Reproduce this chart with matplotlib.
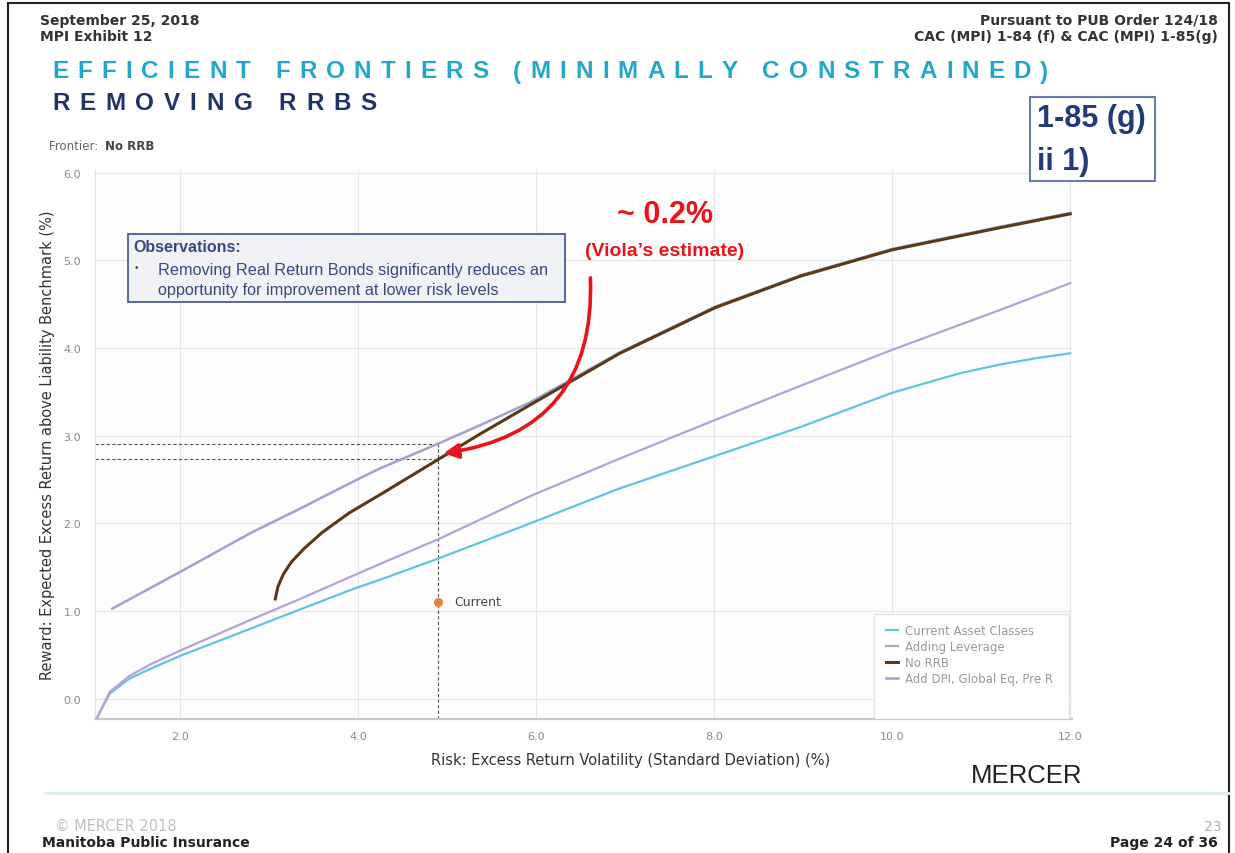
import matplotlib.pyplot as plt
import numpy as np
from matplotlib.patches import Rectangle

W, H = 1235, 854

# frontier curves: risk (x, %) vs expected excess return (y, %)
risk_current = [1.07, 1.21, 1.43, 1.66, 2.0, 2.79, 3.35, 3.91, 4.25, 4.9, 5.93, 6.94, 8.01, 8.97, 10.0, 10.75, 11.2, 11.65, 12.0]
ret_current = [-0.21, 0.06, 0.23, 0.34, 0.49, 0.8, 1.02, 1.24, 1.36, 1.6, 2.0, 2.4, 2.77, 3.1, 3.49, 3.71, 3.81, 3.89, 3.94]

risk_leverage = [1.07, 1.21, 1.43, 1.66, 2.0, 2.79, 3.35, 3.91, 4.25, 4.9, 5.93, 6.94, 8.01, 8.97, 10.0, 11.2, 12.0]
ret_leverage = [-0.21, 0.08, 0.26, 0.39, 0.55, 0.9, 1.14, 1.39, 1.54, 1.82, 2.31, 2.74, 3.18, 3.57, 3.98, 4.43, 4.74]

risk_norrb = [3.07, 3.1, 3.16, 3.25, 3.4, 3.6, 3.9, 4.25, 4.9, 5.37, 5.93, 6.94, 8.01, 8.97, 10.0, 11.2, 12.0]
ret_norrb = [1.14, 1.28, 1.42, 1.56, 1.72, 1.9, 2.12, 2.33, 2.73, 3.02, 3.35, 3.94, 4.46, 4.82, 5.12, 5.37, 5.53]

risk_dpi = [1.24, 1.66, 2.22, 2.79, 3.35, 3.91, 4.25, 4.9, 5.37, 5.93, 6.94, 8.01, 8.97, 10.0, 11.2, 12.0]
ret_dpi = [1.03, 1.26, 1.57, 1.89, 2.17, 2.46, 2.63, 2.91, 3.12, 3.38, 3.95, 4.47, 4.83, 5.13, 5.38, 5.54]

current_risk = 4.9
current_ret = 1.11

series_names = ["Current Asset Classes", "Adding Leverage", "No RRB", "Add DPI, Global Eq, Pre R"]
x_ticks = [2, 4, 6, 8, 10, 12]
y_ticks = [0, 1, 2, 3, 4, 5, 6]


def fx(px):
    return px / W


def fy(py):
    return 1 - py / H


fig = plt.figure(figsize=(W / 100, H / 100), dpi=100)
fig.patch.set_facecolor("white")
renderer = fig.canvas.get_renderer()


def tracked_text(x_px, y_px, s, track_px, **kw):
    # letter-spaced heading, one glyph at a time
    x = x_px
    for ch in s:
        t = fig.text(fx(x), fy(y_px), ch, ha="left", va="center", **kw)
        if ch == " ":
            w = kw["fontsize"] * 100 / 72 * 0.278
        else:
            w = t.get_window_extent(renderer).width
        x += w + track_px


# page frame
fig.add_artist(Rectangle((fx(8), -0.05), fx(1229 - 8), fy(4) + 0.05, transform=fig.transFigure,
                         fill=False, edgecolor="#222222", lw=1.5))

# page header
hdr = dict(fontsize=10, fontweight="bold", color="#333333", family="DejaVu Sans", va="center")
fig.text(fx(40), fy(21), "September 25, 2018", ha="left", **hdr)
fig.text(fx(40), fy(37), "MPI Exhibit 12", ha="left", **hdr)
fig.text(fx(1218), fy(21), "Pursuant to PUB Order 124/18", ha="right", **hdr)
fig.text(fx(1218), fy(37), "CAC (MPI) 1-84 (f) & CAC (MPI) 1-85(g)", ha="right", **hdr)

tracked_text(52, 72, "EFFICIENT FRONTIERS (MINIMALLY CONSTRAINED)", 9.1, fontsize=17.5,
             fontweight="bold", color="#22a8c8", family="Liberation Sans")
tracked_text(52, 104, "REMOVING RRBS", 9.8, fontsize=17.5,
             fontweight="bold", color="#1f3566", family="Liberation Sans")

# reference box at top right
fig.add_artist(Rectangle((fx(1030), fy(182)), fx(1155 - 1030), (182 - 98) / H, transform=fig.transFigure,
                         facecolor="white", edgecolor="#6a7bb0", lw=1.5))
fig.text(fx(1037), fy(119), "1-85 (g)", fontsize=22, fontweight="bold", color="#233a78",
         family="Liberation Sans", ha="left", va="center")
fig.text(fx(1037), fy(162), "ii 1)", fontsize=22, fontweight="bold", color="#233a78",
         family="Liberation Sans", ha="left", va="center")

fig.text(fx(49), fy(147), "Frontier: ", fontsize=8.5, color="#666666", ha="left", va="center")
fig.text(fx(105), fy(147), "No RRB", fontsize=8.5, color="#444444", fontweight="bold", ha="left", va="center")

# chart
ax = fig.add_axes([fx(95), fy(720), fx(1072 - 95), (720 - 171) / H])
ax.set_facecolor("#fdfdfd")
ax.set_xlim(1.045, 12.02)
ax.set_ylim(-0.229, 6.03)

ax.plot(risk_current, ret_current, color="#5ec6dd", lw=1.6, label=series_names[0], zorder=3)
ax.plot(risk_leverage, ret_leverage, color="#b8a0d6", lw=1.6, label=series_names[1], zorder=3)
ax.plot(risk_dpi, ret_dpi, color="#a3a0cc", lw=1.8, label=series_names[3], zorder=3)
ax.plot(risk_norrb, ret_norrb, color="#5a3a15", lw=2.2, label=series_names[2], zorder=4)

# dashed guides at the current risk level
dpi_at_cur = np.interp(current_risk, risk_dpi, ret_dpi)
norrb_at_cur = np.interp(current_risk, risk_norrb, ret_norrb)
guide = dict(color="#555555", lw=0.8, ls=(0, (3, 2)), zorder=2)
ax.plot([ax.get_xlim()[0], current_risk], [dpi_at_cur, dpi_at_cur], **guide)
ax.plot([ax.get_xlim()[0], current_risk], [norrb_at_cur, norrb_at_cur], **guide)
ax.plot([current_risk, current_risk], [ax.get_ylim()[0], dpi_at_cur], **guide)

ax.plot([current_risk], [current_ret], "o", color="#e8823c", ms=5.5, zorder=5)
ax.text(current_risk + 0.18, current_ret, "Current", fontsize=9, color="#444444", va="center")

ax.set_xticks(x_ticks)
ax.set_xticklabels([f"{v:.1f}" for v in x_ticks])
ax.set_yticks(y_ticks)
ax.set_yticklabels([f"{v:.1f}" for v in y_ticks])
ax.tick_params(axis="both", length=0, labelsize=8, labelcolor="#8a8a8a")
ax.tick_params(axis="x", pad=9)
ax.tick_params(axis="y", pad=10)
ax.grid(True, color="#e6e6e6", lw=0.8)
ax.set_axisbelow(True)
for side in ["top", "right"]:
    ax.spines[side].set_visible(False)
ax.spines["left"].set_color("#e0e0e0")
ax.spines["bottom"].set_color("#c8c8c8")
ax.spines["bottom"].set_linewidth(1.6)

ax.set_xlabel("Risk: Excess Return Volatility (Standard Deviation) (%)", fontsize=10.5, color="#333333")
ax.xaxis.set_label_coords((631 - 95) / (1072 - 95), -(753 - 720) / (720 - 171))
ax.set_ylabel("Reward: Expected Excess Return above Liability Benchmark (%)", fontsize=10.5, color="#333333")
ax.yaxis.set_label_coords(-(95 - 55) / (1072 - 95), 0.5)

# legend panel
ax.add_patch(Rectangle((0.797, 0.0), 0.2, 0.192, transform=ax.transAxes, facecolor="white",
                       edgecolor="#e2e2e2", lw=1, zorder=6))
handles, labels = ax.get_legend_handles_labels()
order = [0, 1, 3, 2]
leg = ax.legend([handles[i] for i in order], [labels[i] for i in order], loc="upper left",
                bbox_to_anchor=(0.8, 0.19), frameon=False, fontsize=8.5, handlelength=1.0,
                handletextpad=0.6, labelspacing=0.25, borderpad=0.3)
leg.set_zorder(7)
for t in leg.get_texts():
    t.set_color("#999999")

# observations callout
fig.add_artist(Rectangle((fx(128), fy(303)), fx(565 - 128), (303 - 235) / H, transform=fig.transFigure,
                         facecolor="#f1f2f6", edgecolor="#4c5c98", lw=1.3, zorder=10))
obs = dict(color="#3a4880", family="Liberation Sans", ha="left", va="center", zorder=11)
fig.text(fx(133), fy(248), "Observations:", fontsize=11.5, fontweight="bold", **obs)
fig.text(fx(135), fy(268), "\u2022", fontsize=7, **obs)
fig.text(fx(158), fy(271), "Removing Real Return Bonds significantly reduces an", fontsize=11.7, **obs)
fig.text(fx(158), fy(291), "opportunity for improvement at lower risk levels", fontsize=11.7, **obs)

# red annotation
ax.annotate("", xy=(4.96, 2.8), xytext=(6.61, 4.8),
            arrowprops=dict(arrowstyle="-|>", color="#e8141c", lw=2.6, mutation_scale=22,
                            connectionstyle="arc3,rad=-0.45", shrinkA=0, shrinkB=0), zorder=8)
fig.text(fx(665), fy(215), "~ 0.2%", fontsize=22, fontweight="bold", color="#e8141c",
         family="Liberation Sans", ha="center", va="center")
fig.text(fx(665), fy(252), "(Viola\u2019s estimate)", fontsize=14, fontweight="bold", color="#e8141c",
         family="Liberation Sans", ha="center", va="center")

# footer
fig.text(fx(1027), fy(776), "MERCER", fontsize=18.5, color="#222222", family="Liberation Sans",
         ha="center", va="center")
fig.add_artist(plt.Line2D([fx(45), fx(1229)], [fy(794), fy(794)], transform=fig.transFigure,
                          color="#dcecf2", lw=2))
fig.text(fx(55), fy(826), "\u00a9 MERCER 2018", fontsize=10.5, color="#c0c0c0", ha="left", va="center")
fig.text(fx(42), fy(843), "Manitoba Public Insurance", fontsize=10, fontweight="bold", color="#222222",
         family="DejaVu Sans", ha="left", va="center")
fig.text(fx(1213), fy(827), "23", fontsize=10, color="#b0b0b0", ha="center", va="center")
fig.text(fx(1218), fy(843), "Page 24 of 36", fontsize=10, fontweight="bold", color="#222222",
         family="DejaVu Sans", ha="right", va="center")

fig.savefig("out.png", dpi=100)
